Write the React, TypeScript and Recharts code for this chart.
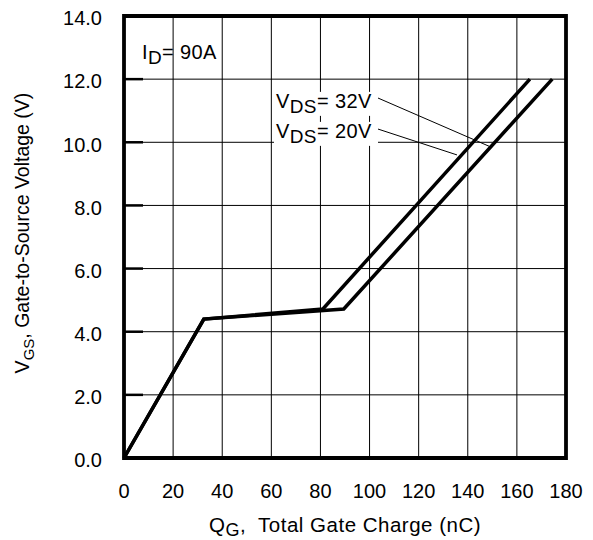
import React from 'react';
import {
  LineChart,
  Line,
  XAxis,
  YAxis,
  CartesianGrid,
  ReferenceArea,
  ReferenceLine,
  ReferenceDot,
} from 'recharts';

const FONT = '"Liberation Sans", Arial, Helvetica, sans-serif';

// Axis ticks
const xTicks = [0, 20, 40, 60, 80, 100, 120, 140, 160, 180];
const yTicks = [0, 2, 4, 6, 8, 10, 12, 14];

// Series: VDS = 20 V (shorter plateau) and VDS = 32 V (longer plateau)
const chargeVds20 = [0, 32.5, 81, 165.3];
const voltageVds20 = [0, 4.4, 4.72, 12];
const chargeVds32 = [0, 32.5, 89.5, 174.4];
const voltageVds32 = [0, 4.4, 4.72, 12];

// Annotation anchors (data coordinates)
const idLabelAt = { q: 7.3, v: 12.64 };
const vds32LabelAt = { q: 61.9, v: 11.09 };
const vds20LabelAt = { q: 61.9, v: 10.14 };
const leader32 = [{ x: 102.6, y: 11.43 }, { x: 149.4, y: 9.85 }];
const leader20 = [{ x: 103.4, y: 10.42 }, { x: 135.6, y: 9.6 }];

const vds20Data = chargeVds20.map((q, i) => ({ q, v: voltageVds20[i] }));
const vds32Data = chargeVds32.map((q, i) => ({ q, v: voltageVds32[i] }));

const Y_TICK_GAP = 22;

const YTick = (props: any) => {
  const { x, y, payload } = props;
  const v = payload.value as number;
  const axisX = x + Y_TICK_GAP;
  return (
    <g>
      {v > 0 && v < 14 && (
        <line x1={axisX} x2={axisX + 19} y1={y} y2={y} stroke="#000" strokeWidth={2.5} />
      )}
      <text x={x} y={y} dy={9.3} textAnchor="end" fontSize={20} fontFamily={FONT} fill="#000">
        {v.toFixed(1)}
      </text>
    </g>
  );
};

const renderXLabel = (props: any) => {
  const vb = props.viewBox;
  const cx = vb.x + vb.width / 2;
  const cy = vb.y + 74;
  return (
    <text x={cx} y={cy} textAnchor="middle" fontSize={20.5} letterSpacing={0.5} fontFamily={FONT} fill="#000">
      <tspan>Q</tspan>
      <tspan dy={4} fontSize={18}>G</tspan>
      <tspan dy={-4}>,</tspan>
      <tspan dx={12}>Total Gate Charge (nC)</tspan>
    </text>
  );
};

const renderYLabel = (props: any) => {
  const vb = props.viewBox;
  const cx = vb.x + 21;
  const cy = vb.y + vb.height / 2 - 4;
  return (
    <text
      x={cx}
      y={cy}
      transform={`rotate(-90 ${cx} ${cy})`}
      textAnchor="middle"
      fontSize={19.5}
      fontFamily={FONT}
      fill="#000"
    >
      <tspan>V</tspan>
      <tspan dy={5} fontSize={15}>GS</tspan>
      <tspan dy={-5}>, Gate-to-Source Voltage (V)</tspan>
    </text>
  );
};

const makeVdsLabel = (value: string, bg: boolean) => (props: any) => {
  const vb = props.viewBox;
  const x = vb.x;
  const y = vb.y;
  return (
    <g>
      {bg && <rect x={x - 2} y={y - 16} width={104} height={24} fill="#fff" />}
      <text x={x} y={y} fontSize={20} letterSpacing={0.4} fontFamily={FONT} fill="#000">
        <tspan>V</tspan>
        <tspan dy={5} fontSize={19}>DS</tspan>
        <tspan dy={-5}>{`= ${value}`}</tspan>
      </text>
    </g>
  );
};

const renderIdLabel = (props: any) => {
  const vb = props.viewBox;
  return (
    <text x={vb.x} y={vb.y} fontSize={20} letterSpacing={0.4} fontFamily={FONT} fill="#000">
      <tspan>I</tspan>
      <tspan dy={5} fontSize={19}>D</tspan>
      <tspan dy={-5}>= 90A</tspan>
    </text>
  );
};

export default function App() {
  return (
    <LineChart width={585} height={532} margin={{ top: 8, right: 27, bottom: 2, left: 0 }}>
      <CartesianGrid stroke="#000" strokeWidth={1} />
      <XAxis
        dataKey="q"
        type="number"
        domain={[0, 180]}
        ticks={xTicks}
        interval={0}
        height={80}
        axisLine={false}
        tickLine={false}
        tickSize={0}
        tickMargin={26}
        tick={{ fontSize: 20, fill: '#000', fontFamily: FONT }}
        label={{ content: renderXLabel }}
      />
      <YAxis
        type="number"
        domain={[0, 14]}
        ticks={yTicks}
        interval={0}
        width={116}
        axisLine={false}
        tickLine={false}
        tickSize={0}
        tickMargin={Y_TICK_GAP}
        tick={<YTick />}
        label={{ content: renderYLabel }}
      />
      <ReferenceArea x1={0} x2={180} y1={0} y2={14} fill="none" stroke="#000" strokeWidth={3.8} />
      <Line
        data={vds20Data}
        dataKey="v"
        type="linear"
        stroke="#000"
        strokeWidth={3.5}
        dot={false}
        isAnimationActive={false}
      />
      <Line
        data={vds32Data}
        dataKey="v"
        type="linear"
        stroke="#000"
        strokeWidth={3.5}
        dot={false}
        isAnimationActive={false}
      />
      <ReferenceLine segment={leader32} stroke="#000" strokeWidth={1} />
      <ReferenceLine segment={leader20} stroke="#000" strokeWidth={1} />
      <ReferenceDot x={idLabelAt.q} y={idLabelAt.v} r={0} fill="none" stroke="none" label={renderIdLabel} />
      <ReferenceDot x={vds32LabelAt.q} y={vds32LabelAt.v} r={0} fill="none" stroke="none" label={makeVdsLabel('32V', true)} />
      <ReferenceDot x={vds20LabelAt.q} y={vds20LabelAt.v} r={0} fill="none" stroke="none" label={makeVdsLabel('20V', true)} />
    </LineChart>
  );
}
